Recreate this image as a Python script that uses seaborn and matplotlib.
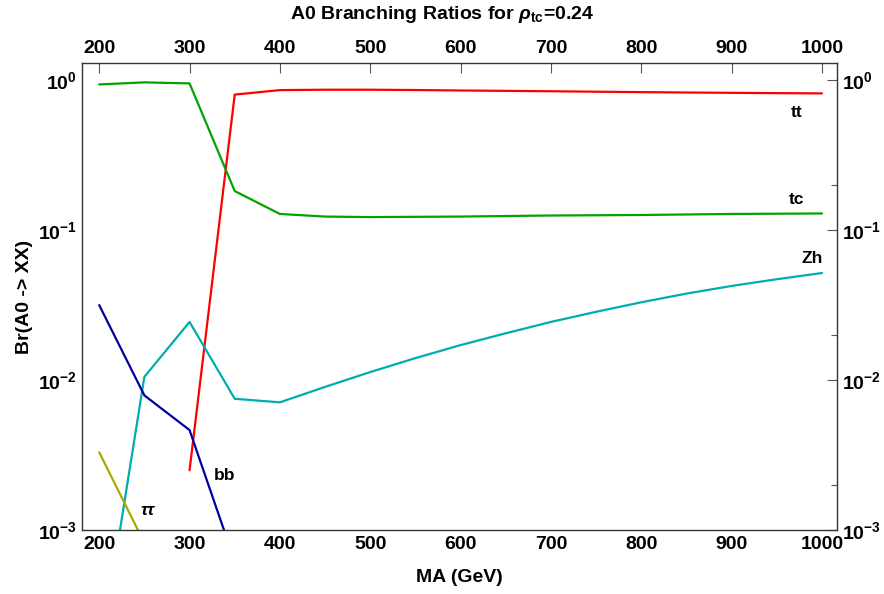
import numpy as np
import pandas as pd
import matplotlib
matplotlib.use("Agg")
import matplotlib.pyplot as plt
from matplotlib.ticker import LogLocator, FixedLocator, NullFormatter
import seaborn as sns

# A0 branching ratios versus the A0 mass (GeV)
mass_tt = [300, 350, 400, 450, 500, 550, 600, 650, 700, 750, 800, 850, 900, 950, 1000]
br_tt = [0.0025, 0.80, 0.857, 0.862, 0.862, 0.858, 0.852, 0.847, 0.842, 0.836, 0.831, 0.826, 0.822, 0.818, 0.815]

mass_tc = [200, 250, 300, 350, 400, 450, 500, 550, 600, 650, 700, 750, 800, 850, 900, 950, 1000]
br_tc = [0.935, 0.965, 0.95, 0.182, 0.128, 0.123, 0.122, 0.1225, 0.123, 0.124, 0.125, 0.1255, 0.126, 0.127, 0.128, 0.1285, 0.129]

mass_zh = [200, 250, 300, 350, 400, 450, 500, 550, 600, 650, 700, 750, 800, 850, 900, 950, 1000]
br_zh = [1.35e-4, 0.0105, 0.0244, 0.0075, 0.0071, 0.0090, 0.0113, 0.0140, 0.0171, 0.0205, 0.0244, 0.0285, 0.0330, 0.0377, 0.0424, 0.0470, 0.0517]

mass_bb = [200, 250, 300, 350]
br_bb = [0.0316, 0.0079, 0.00464, 6.2e-4]

mass_tautau = [200, 250]
br_tautau = [0.0033, 8.2e-4]

channels = ["tt", "tc", "Zh", "bb", "ττ"]
colors = ["#ff0000", "#00a400", "#00adad", "#0000a0", "#aaaa00"]

label_x = [972, 972, 989, 339, 254]
label_y = [0.61, 0.161, 0.065, 0.0023, 0.00134]

frames = []
for name, m, b in zip(channels,
                      [mass_tt, mass_tc, mass_zh, mass_bb, mass_tautau],
                      [br_tt, br_tc, br_zh, br_bb, br_tautau]):
    frames.append(pd.DataFrame({"MA": m, "BR": b, "channel": name}))
df = pd.concat(frames, ignore_index=True)

sns.set_theme(style="white")
plt.rcParams["font.family"] = ["Liberation Sans", "DejaVu Sans"]
plt.rcParams["font.weight"] = "bold"
plt.rcParams["text.color"] = "black"
plt.rcParams["axes.labelcolor"] = "black"
plt.rcParams["xtick.labelcolor"] = "black"
plt.rcParams["ytick.labelcolor"] = "black"
plt.rcParams["mathtext.fontset"] = "custom"
plt.rcParams["mathtext.rm"] = "Liberation Sans:bold"
plt.rcParams["mathtext.it"] = "Liberation Sans:italic:bold"
plt.rcParams["mathtext.bf"] = "Liberation Sans:bold"

fig = plt.figure(figsize=(8.84, 5.94), dpi=100)
ax = fig.add_axes([0.0928, 0.1077, 0.8540, 0.7863])

sns.lineplot(data=df, x="MA", y="BR", hue="channel", hue_order=channels,
             palette=dict(zip(channels, colors)), linewidth=1.6,
             legend=False, ax=ax, sort=False, estimator=None)

ax.set_yscale("log")
ax.set_xlim(181, 1016.6)
ax.set_ylim(1e-3, 1.3)

xt = [200, 300, 400, 500, 600, 700, 800, 900, 1000]
ax.xaxis.set_major_locator(FixedLocator(xt))
ax.set_xticklabels([str(v) for v in xt])
ax.yaxis.set_major_locator(FixedLocator([1e-3, 1e-2, 1e-1, 1e0]))
ax.set_yticklabels([r"$\mathbf{10^{-3}}$", r"$\mathbf{10^{-2}}$",
                    r"$\mathbf{10^{-1}}$", r"$\mathbf{10^{0}}$"])
ax.yaxis.set_minor_locator(LogLocator(base=10, subs=[2.0]))
ax.yaxis.set_minor_formatter(NullFormatter())

ax.tick_params(axis="both", which="both", direction="in", color="#555555",
               top=True, right=True, labeltop=True, labelright=True,
               labelsize=14, width=0.8, labelcolor="black")
ax.tick_params(axis="both", which="major", length=7)
ax.tick_params(axis="both", which="minor", length=4)
ax.tick_params(axis="x", pad=4)
for lab in ax.get_xticklabels() + ax.get_yticklabels():
    lab.set_fontweight("bold")

for s in ax.spines.values():
    s.set_color("#333333")
    s.set_linewidth(1.0)

for name, lx, ly in zip(channels, label_x, label_y):
    style = "italic" if name == "ττ" else "normal"
    ax.text(lx, ly, name, ha="center", va="center", fontsize=12.5,
            fontweight="bold", style=style, color="black")

ax.set_xlabel("MA (GeV)", fontsize=14, fontweight="bold", labelpad=12,
              color="black")
ax.set_ylabel("Br(A0 -> XX)", fontsize=14, fontweight="bold", labelpad=4,
              color="black")
fig.text(0.5, 0.975, r"A0 Branching Ratios for $\rho_{\rm tc}$=0.24",
         ha="center", va="center", fontsize=14, fontweight="bold",
         color="black")

fig.savefig("out.png", dpi=100)
